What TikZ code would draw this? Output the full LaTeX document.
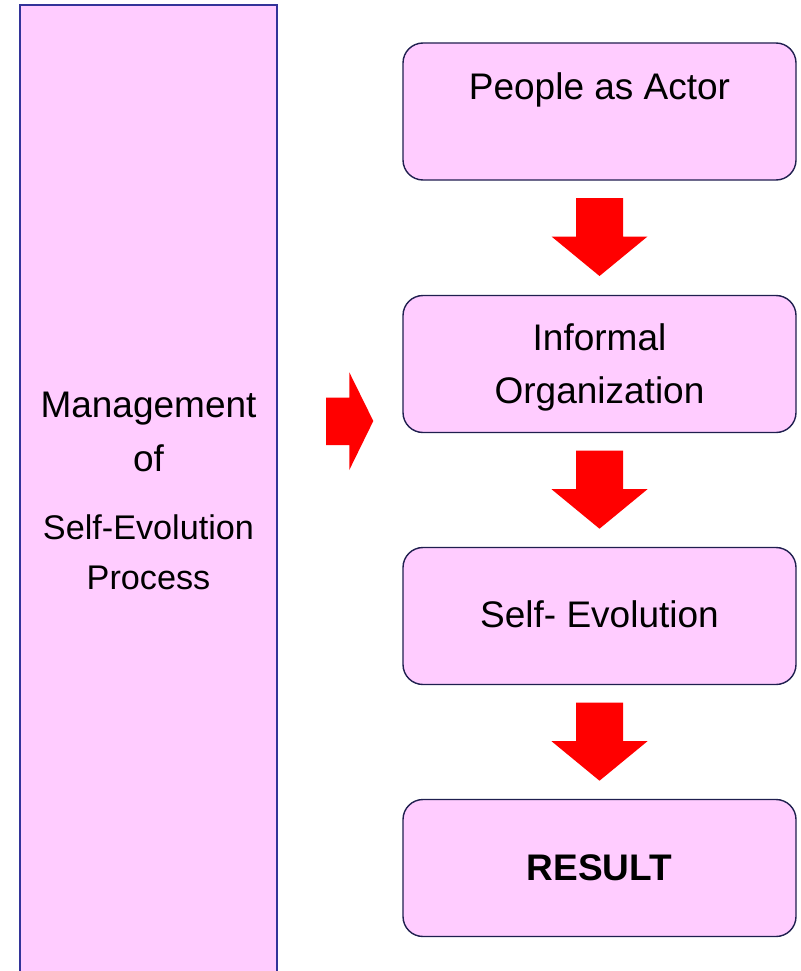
\documentclass[tikz,border=0pt]{standalone}
\usepackage{fontspec}
\setmainfont{Liberation Sans}
\definecolor{boxfill}{HTML}{FFCCFF}
\definecolor{leftborder}{HTML}{333399}
\definecolor{boxborder}{HTML}{1F1F4F}
\definecolor{arrowred}{HTML}{FF0000}
\begin{document}
\begin{tikzpicture}[x=1pt,y=-1pt,
  flowbox/.style={draw=boxborder, line width=1.4pt, fill=boxfill, rounded corners=20pt,
    minimum width=393pt, minimum height=137pt, inner sep=0pt},
  bigtext/.style={font=\fontsize{37}{44}\selectfont, anchor=base, inner sep=0pt},
  midtext/.style={font=\fontsize{34.2}{40}\selectfont, anchor=base, inner sep=0pt},
  downarr/.pic={\fill[arrowred] (-23.5,0) -- (23.5,0) -- (23.5,38.5) -- (48,38.5) -- (0,78)
      -- (-48,38.5) -- (-23.5,38.5) -- cycle;}]
\useasboundingbox (0,0) rectangle (800,971);
\clip (0,0) rectangle (800,971);
% left tall box
\node[draw=leftborder, line width=2pt, fill=boxfill, minimum width=257pt,
  minimum height=990pt, inner sep=0pt] (mgmt) at (148.5,500) {};
\node[bigtext] (t1) at (148.5,417.7) {Management};
\node[bigtext] (t2) at (148.5,471.7) {of};
\node[midtext] (t3) at (148.5,539) {Self-Evolution};
\node[midtext] (t4) at (148.5,589.3) {Process};
% right boxes
\node[flowbox] (b1) at (599.5,111.5) {};
\node[flowbox] (b2) at (599.5,364) {};
\node[flowbox] (b3) at (599.5,616) {};
\node[flowbox] (b4) at (599.5,868) {};
\node[bigtext] (l1) at (599.5,100) {People as Actor};
\node[bigtext] (l2a) at (599.5,350) {Informal};
\node[bigtext] (l2b) at (599.5,403.3) {Organization};
\node[bigtext] (l3) at (599.5,627.3) {Self- Evolution};
\node[bigtext, font=\fontsize{37}{44}\selectfont\bfseries] (l4) at (599.5,880.7) {RESULT};
% arrows
\pic at (599.5,198) {downarr};
\pic at (599.5,450.7) {downarr};
\pic at (599.5,702.7) {downarr};
\fill[arrowred] (326,397.7) -- (349.3,397.7) -- (349.3,372.3) -- (373.3,421)
  -- (349.3,470) -- (349.3,445) -- (326,445) -- cycle;
\end{tikzpicture}
\end{document}
